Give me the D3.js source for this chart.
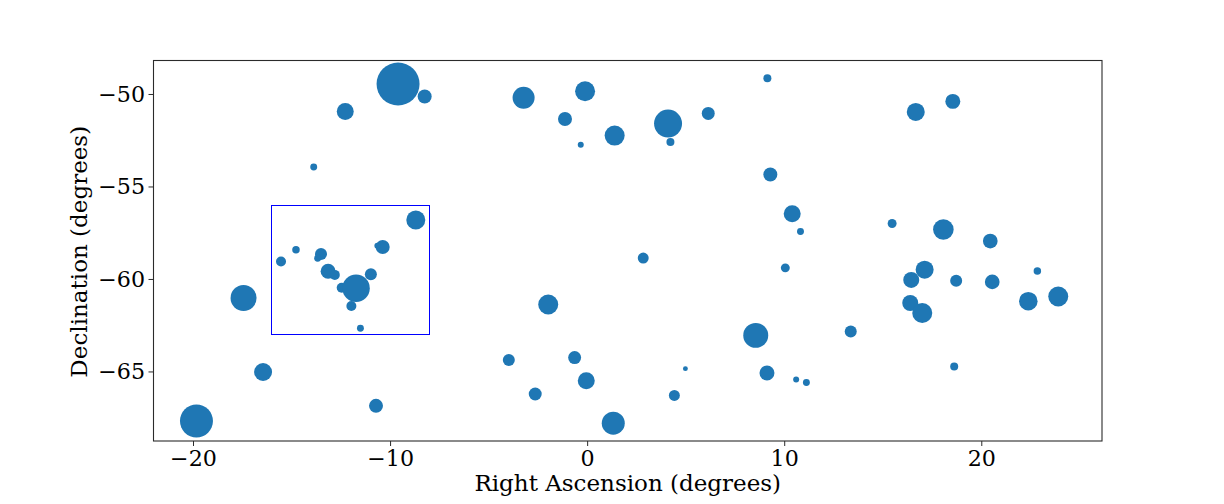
<!DOCTYPE html>
<html>
<head>
<meta charset="utf-8">
<script src="https://cdn.jsdelivr.net/npm/d3@7"></script>
<style>
  html, body { margin: 0; padding: 0; background: #fff; }
  svg { display: block; }
  text { font-family: "DejaVu Serif", serif; fill: #000; }
</style>
</head>
<body>
<svg id="chart" width="1224" height="504"></svg>
<script>
const rightAscension = [-9.62, -8.27, -12.3, -13.9, -3.25, -0.13, -1.15, 1.37, 4.08, 6.12, 9.12, -0.35, 4.2, 16.65, 18.53,
  9.27, 10.38, 10.8, 15.45, 18.05, 20.43, 10.03, 2.82, 22.82, 17.1, 16.42, 18.7, 20.53, 22.36, 23.88, 16.37, 16.98,
  13.35, 8.53, -2.0, -17.46, -16.47, -19.85, -10.74, -4.0, -0.66, -2.66, -0.07, 1.3, 4.4, 4.96, 9.1, 10.58, 11.1, 18.6,
  -8.72, -10.4, -10.67, -13.53, -13.7, -14.8, -15.56, -13.17, -12.83, -11.0, -12.48, -11.75, -11.99, -11.53];
const declination = [-49.46, -50.14, -50.95, -53.95, -50.2, -49.85, -51.35, -52.25, -51.6, -51.05, -49.15, -52.75, -52.6, -50.97, -50.4,
  -54.35, -56.48, -57.43, -57.0, -57.33, -57.95, -59.4, -58.87, -59.57, -59.5, -60.05, -60.1, -60.16, -61.2, -60.95, -61.3, -61.84,
  -62.84, -63.05, -61.38, -61.03, -65.03, -67.68, -66.86, -64.38, -64.25, -66.22, -65.5, -67.8, -66.3, -64.85, -65.08, -65.43, -65.6, -64.73,
  -56.81, -58.27, -58.2, -58.65, -58.88, -58.42, -59.06, -59.58, -59.78, -59.75, -60.48, -60.5, -61.46, -62.66];
const flux = [462, 49, 72, 12, 121, 100, 49, 100, 196, 42, 16, 9, 16, 81, 56,
  49, 72, 12, 20, 106, 54, 20, 30, 14, 81, 64, 36, 54, 86, 100, 64, 100,
  36, 156, 100, 169, 81, 272, 49, 36, 42, 42, 72, 132, 30, 6, 56, 9, 12, 16,
  90, 49, 9, 36, 12, 14, 25, 56, 25, 36, 25, 188, 25, 12];
const xTicks = [-20, -10, 0, 10, 20];
const yTicks = [-50, -55, -60, -65];
const boxRa = [-16, -8];
const boxDec = [-63, -56];

const left = 153.5, right = 1102, top_ = 60.5, bottom = 441;
const TICK_FONT = 22.2, LABEL_FONT = 23;

const x = d3.scaleLinear().domain([-22.03, 26.1]).range([left, right]);
const y = d3.scaleLinear().domain([-68.76, -48.19]).range([bottom, top_]);
const r = d3.scaleSqrt().domain([0, 500]).range([0, Math.sqrt(500)]);

const svg = d3.select("#chart");
const minus = (d) => String(d).replace("-", "\u2212");

// bubbles
svg.append("g").selectAll("circle")
  .data(flux)
  .join("circle")
  .attr("cx", (d, i) => x(rightAscension[i]))
  .attr("cy", (d, i) => y(declination[i]))
  .attr("r", (d) => r(d))
  .attr("fill", "#1f77b4");

// selection box, snapped to the pixel grid
const boxX0 = Math.round(x(boxRa[0])) - 0.5, boxX1 = Math.round(x(boxRa[1])) - 0.5;
const boxY0 = Math.round(y(boxDec[1])) + 0.5, boxY1 = Math.round(y(boxDec[0])) + 0.5;
svg.append("rect")
  .attr("x", boxX0)
  .attr("y", boxY0)
  .attr("width", boxX1 - boxX0)
  .attr("height", boxY1 - boxY0)
  .attr("fill", "none")
  .attr("stroke", "#0000ff")
  .attr("stroke-width", 1);

// axes
const xAxis = svg.append("g")
  .attr("transform", `translate(0,${bottom})`)
  .call(d3.axisBottom(x).tickValues(xTicks).tickFormat(minus).tickSize(5).tickPadding(4).offset(0));
const yAxis = svg.append("g")
  .attr("transform", `translate(${left},0)`)
  .call(d3.axisLeft(y).tickValues(yTicks).tickFormat(minus).tickSize(5).tickPadding(3.5));

for (const a of [xAxis, yAxis]) {
  a.selectAll("text").style("font-size", TICK_FONT + "px").style("font-family", '"DejaVu Serif", serif');
  a.selectAll("line").attr("stroke", "#2b2b2b").attr("stroke-width", 1);
  a.select(".domain").remove();
}

// frame
svg.append("rect")
  .attr("x", left)
  .attr("y", top_)
  .attr("width", right - left)
  .attr("height", bottom - top_)
  .attr("fill", "none")
  .attr("stroke", "#2b2b2b")
  .attr("stroke-width", 1.1);

svg.append("text")
  .attr("x", (left + right) / 2)
  .attr("y", 491)
  .attr("text-anchor", "middle")
  .style("font-size", LABEL_FONT + "px")
  .text("Right Ascension (degrees)");

svg.append("text")
  .attr("transform", `translate(87,${(top_ + bottom) / 2 + 1}) rotate(-90)`)
  .attr("text-anchor", "middle")
  .style("font-size", LABEL_FONT + "px")
  .text("Declination (degrees)");
</script>
</body>
</html>
